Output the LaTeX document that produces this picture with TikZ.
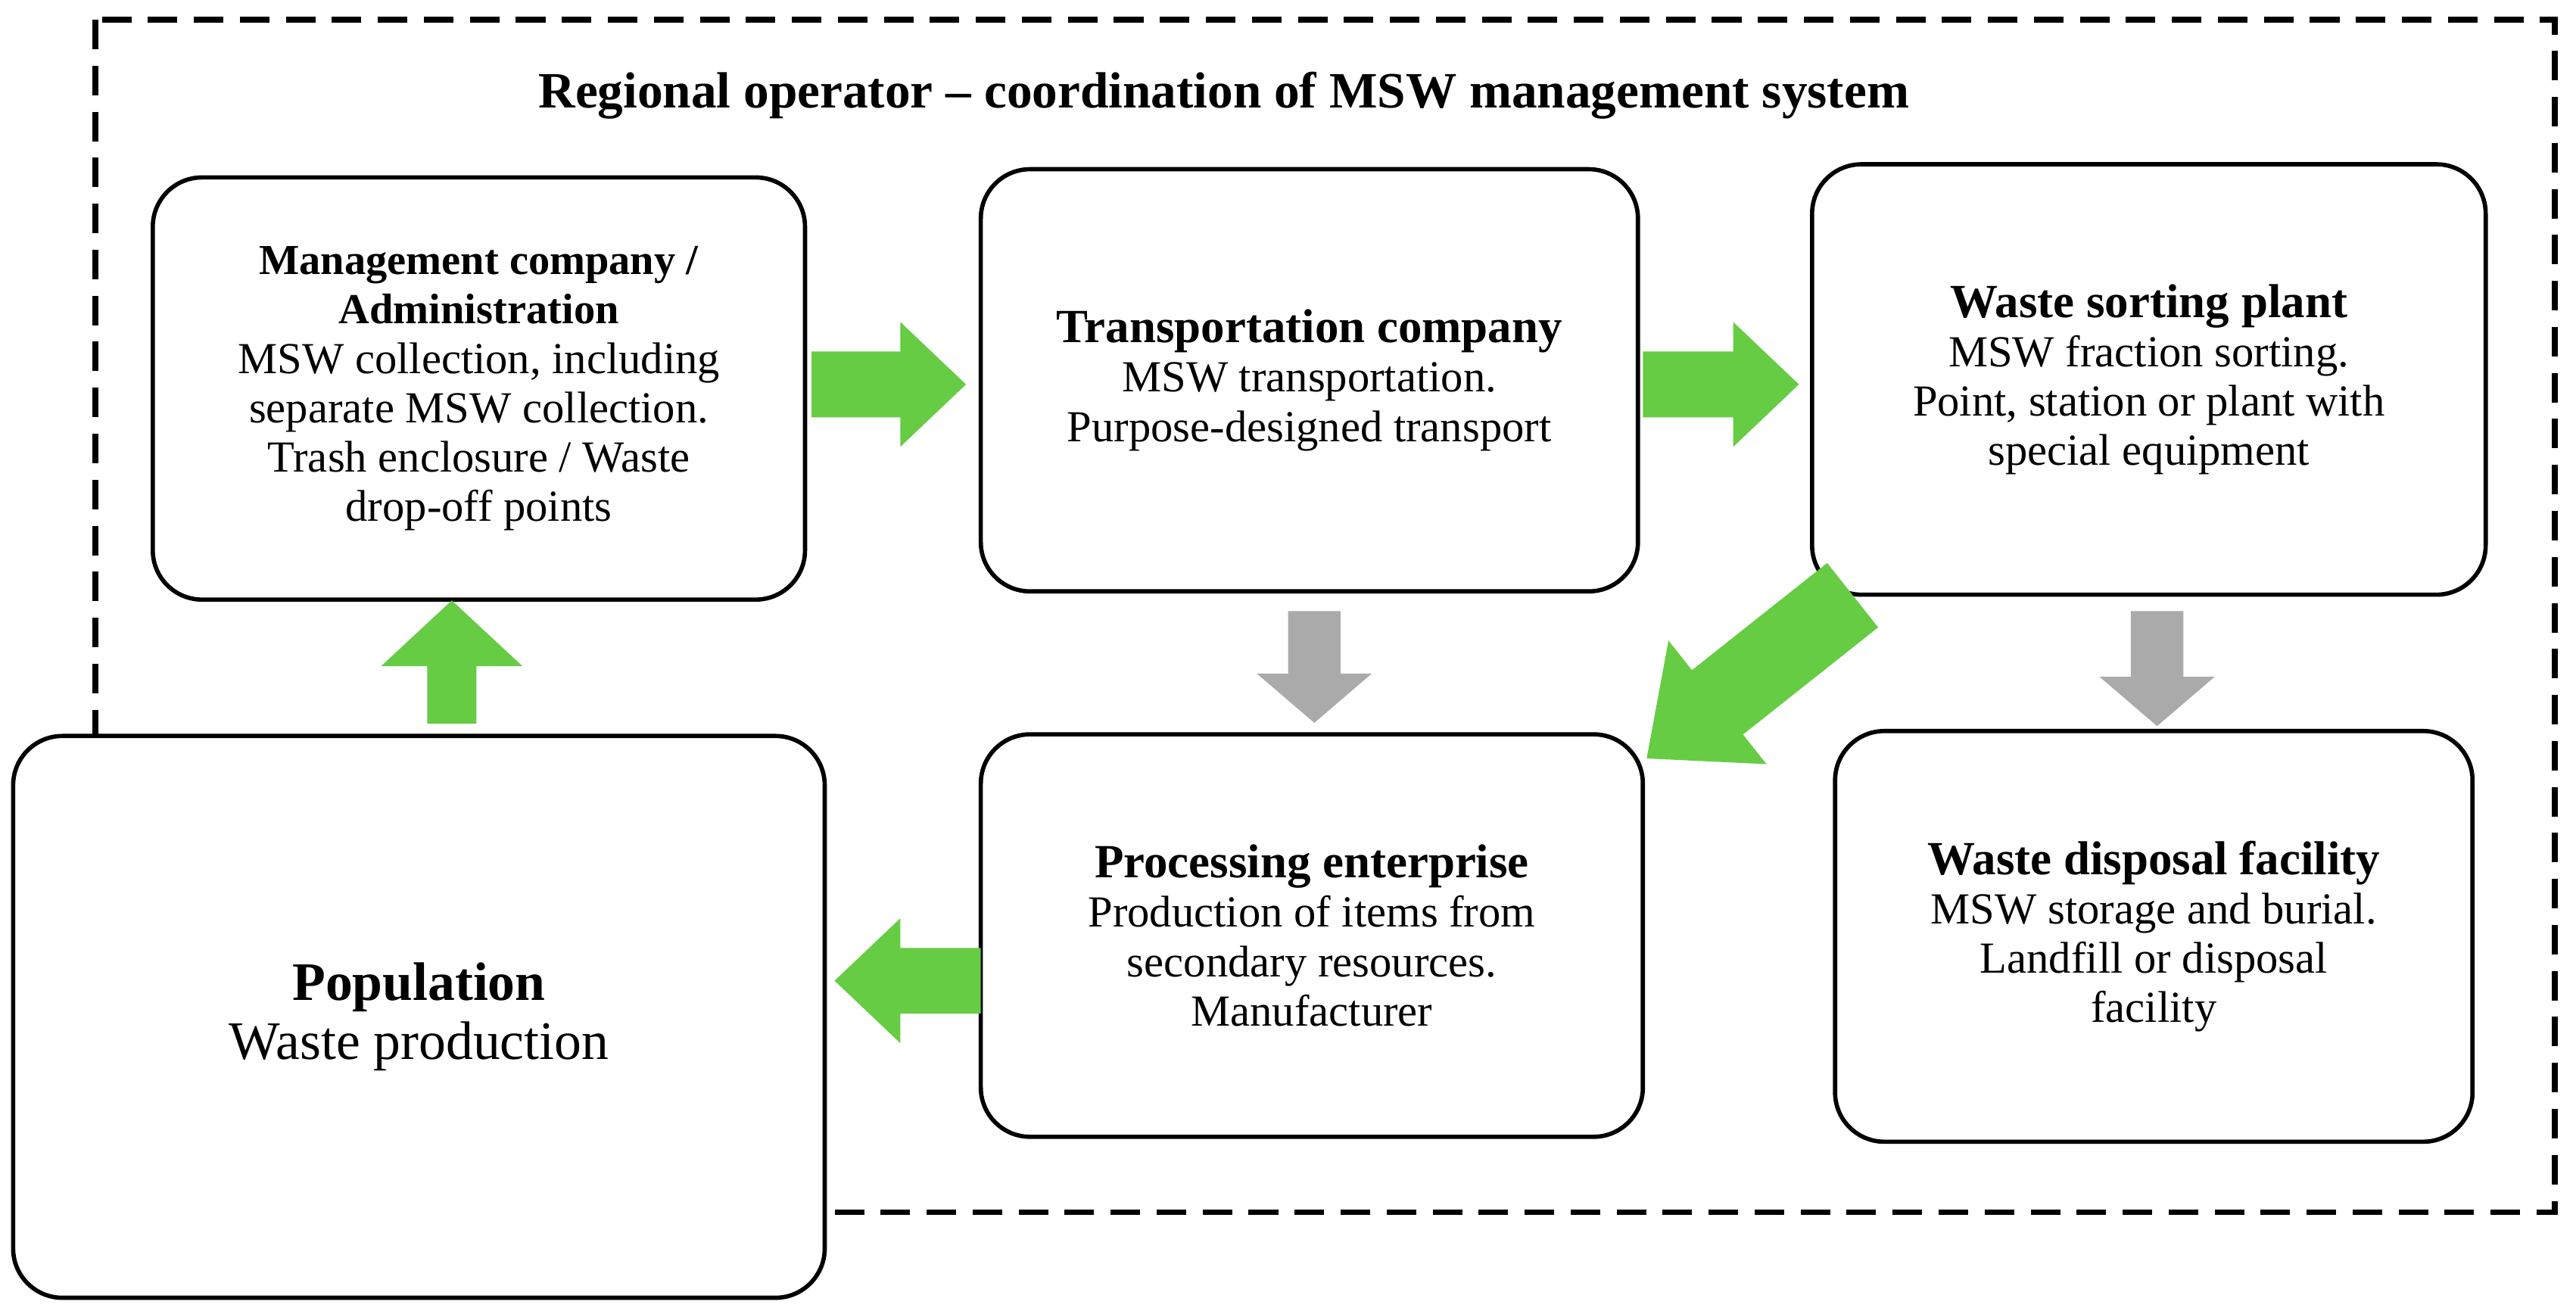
\documentclass[tikz,border=0pt]{standalone}
\usepackage{fontspec}
\setmainfont{Liberation Serif}
\newcommand\blockarr[8]{% x y angle L H b h colour
 \fill[#8,shift={(#1,#2)},rotate=#3] (-#4/2,-#6) -- (#4/2-#7,-#6) -- (#4/2-#7,-#5) -- (#4/2,0) -- (#4/2-#7,#5) -- (#4/2-#7,#6) -- (-#4/2,#6) -- cycle;}
\begin{document}
\begin{tikzpicture}[x=1pt,y=-1pt,
 box/.style={draw,line width=2.6pt,rounded corners=30pt,align=center,font=\fontsize{27}{30}\selectfont}]
\definecolor{ga}{RGB}{102,204,68}
\definecolor{gr}{RGB}{170,170,170}
\useasboundingbox (0,0) rectangle (1568,798);
\fill[white] (0,0) rectangle (1568,798);
\draw[line width=3.5pt,dash pattern=on 18pt off 10pt] (58,12) rectangle (1555,738);
\node[font=\bfseries\fontsize{31}{34}\selectfont] (title) at (745,58) {Regional operator -- coordination of MSW management system};
\node[box,minimum width=397pt,minimum height=257pt] (mc) at (291.5,236.5) {\textbf{\fontsize{26}{30}\selectfont Management company /}\\\textbf{\fontsize{26}{30}\selectfont Administration}\\MSW collection, including\\separate MSW collection.\\Trash enclosure / Waste\\drop-off points};
\node[box,minimum width=400pt,minimum height=257pt] (tc) at (797,231.5) {\textbf{\fontsize{29}{30}\selectfont Transportation company}\\MSW transportation.\\Purpose-designed transport};
\node[box,minimum width=410pt,minimum height=262pt] (ws) at (1308,231) {\textbf{\fontsize{29}{30}\selectfont Waste sorting plant}\\MSW fraction sorting.\\Point, station or plant with\\special equipment};
\node[box,minimum width=403pt,minimum height=245pt] (pe) at (798.5,569.5) {\textbf{\fontsize{29}{30}\selectfont Processing enterprise}\\Production of items from\\secondary resources.\\Manufacturer};
\node[box,minimum width=388pt,minimum height=250pt] (wd) at (1311,570) {\textbf{\fontsize{29}{30}\selectfont Waste disposal facility}\\MSW storage and burial.\\Landfill or disposal\\facility};
\node[box,fill=white,minimum width=494pt,minimum height=342pt,font=\fontsize{33}{36}\selectfont] (pop) at (255,619) {\textbf{\fontsize{33}{36}\selectfont Population}\\Waste production};
\blockarr{541}{234}{0}{94}{38}{20}{40}{ga}
\blockarr{1047.5}{234}{0}{95}{38}{20}{40}{ga}
\blockarr{800}{406}{-90}{68}{35}{16}{30}{gr}
\blockarr{1313}{407}{-90}{70}{35}{16}{30}{gr}
\blockarr{1065}{412}{-141.6}{160}{48}{25}{55}{ga}
\blockarr{275}{403}{90}{75}{43}{15}{40}{ga}
\blockarr{552.5}{597}{180}{89}{38}{20}{40}{ga}
\end{tikzpicture}
\end{document}
